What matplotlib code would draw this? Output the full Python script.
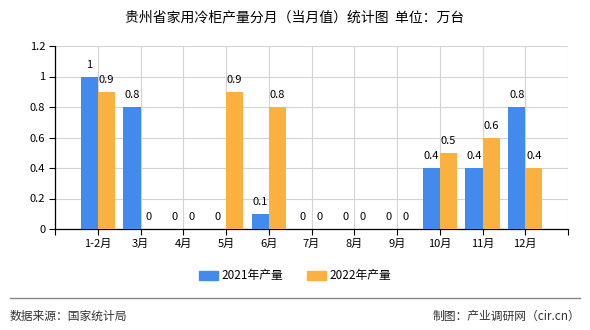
import matplotlib
matplotlib.use("Agg")
import matplotlib.pyplot as plt
from matplotlib.lines import Line2D
from matplotlib.patches import Patch

plt.rcParams["font.family"] = ["Noto Sans CJK SC", "DejaVu Sans"]

months = ["1-2月", "3月", "4月", "5月", "6月", "7月", "8月", "9月", "10月", "11月", "12月"]
output_2021 = [1, 0.8, 0, 0, 0.1, 0, 0, 0, 0.4, 0.4, 0.8]
output_2022 = [0.9, 0, 0, 0.9, 0.8, 0, 0, 0, 0.5, 0.6, 0.4]
y_ticks = [0, 0.2, 0.4, 0.6, 0.8, 1, 1.2]

blue = "#428bec"
orange = "#fbb140"


def fmt(v):
    return ("%g" % v)


fig = plt.figure(figsize=(5.9, 3.3), dpi=100)
ax = fig.add_axes([55 / 590, 101 / 330, 513 / 590, 183 / 330])

x = [i + 1 for i in range(len(months))]
w = 0.4
ax.bar([p - w / 2 for p in x], output_2021, width=w, color=blue, label="2021年产量", zorder=3)
ax.bar([p + w / 2 for p in x], output_2022, width=w, color=orange, label="2022年产量", zorder=3)

for p, a, b in zip(x, output_2021, output_2022):
    ax.text(p - w / 2, a + 0.045, fmt(a), ha="center", va="bottom", fontsize=8, zorder=4)
    ax.text(p + w / 2, b + 0.045, fmt(b), ha="center", va="bottom", fontsize=8, zorder=4)

ax.set_xlim(0, 12)
ax.set_ylim(0, 1.2)
ax.set_xticks(range(13))
ax.set_xticklabels([""] + months + [""], fontsize=8)
ax.set_yticks(y_ticks)
ax.set_yticklabels([fmt(v) for v in y_ticks], fontsize=8)
ax.tick_params(length=4, width=0.8, color="black", pad=3)
ax.grid(True, color="#d4d4d4", linewidth=0.8, zorder=0)
for s in ["top", "right"]:
    ax.spines[s].set_visible(False)
for s in ["left", "bottom"]:
    ax.spines[s].set_linewidth(0.9)

fig.text(0.5, 1 - 17 / 330, "贵州省家用冷柜产量分月（当月值）统计图  单位：万台",
         ha="center", va="center", fontsize=10)

handles = [Patch(color=blue), Patch(color=orange)]
fig.legend(handles, ["2021年产量", "2022年产量"], loc="center", ncol=2,
           bbox_to_anchor=(0.5, 1 - 276 / 330), frameon=False, fontsize=8.5,
           handlelength=1.6, handleheight=0.7, columnspacing=2.0, handletextpad=0.3)

fig.add_artist(Line2D([10 / 590, 580 / 590], [1 - 298 / 330] * 2, color="#888888", linewidth=1))
fig.text(10 / 590, 1 - 316 / 330, "数据来源：国家统计局", ha="left", va="center",
         fontsize=8.5, color="#333333")
fig.text(580 / 590, 1 - 316 / 330, "制图：产业调研网（cir.cn）", ha="right", va="center",
         fontsize=8.5, color="#333333")

fig.savefig("out.png", dpi=100)
